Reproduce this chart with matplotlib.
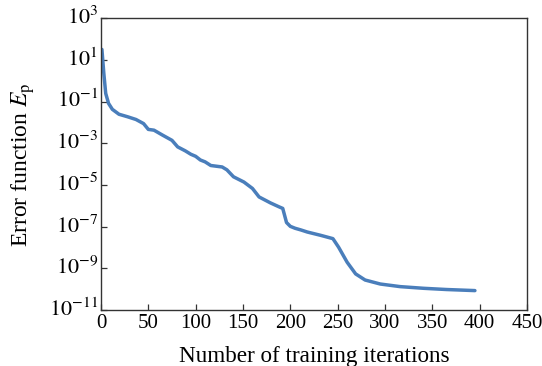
import numpy as np
import matplotlib
matplotlib.use("Agg")
import matplotlib.pyplot as plt
from matplotlib.transforms import ScaledTranslation

# Training history: iteration number and error function value
iterations = [1, 3, 5, 8, 12, 19, 28, 37, 45, 50, 56, 65, 75, 81, 89, 95, 100,
              105, 110, 116, 128, 133, 140, 151, 160, 167, 179, 188, 192, 196,
              200, 205, 211, 218, 232, 245, 251, 260, 269, 279, 295, 316, 341,
              365, 395]
error = [3.2e1, 2.3e0, 2.5e-1, 8.3e-2, 4.3e-2, 2.5e-2, 1.9e-2, 1.4e-2, 8.9e-3,
         4.7e-3, 4.3e-3, 2.5e-3, 1.4e-3, 6.8e-4, 4.4e-4, 3.0e-4, 2.4e-4,
         1.6e-4, 1.3e-4, 8.7e-5, 7.4e-5, 5.4e-5, 2.5e-5, 1.4e-5, 6.9e-6,
         2.7e-6, 1.4e-6, 9.1e-7, 7.6e-7, 1.6e-7, 1.05e-7, 8.5e-8, 7.1e-8,
         5.6e-8, 3.9e-8, 2.7e-8, 1.05e-8, 2.0e-9, 5.5e-10, 2.8e-10, 1.8e-10,
         1.35e-10, 1.12e-10, 9.8e-11, 8.7e-11]

x_ticks = [0, 50, 100, 150, 200, 250, 300, 350, 400, 450]
y_exponents = [3, 1, -1, -3, -5, -7, -9, -11]

plt.rcParams["font.family"] = ["Liberation Serif", "DejaVu Serif"]
plt.rcParams["mathtext.fontset"] = "stix"

fig = plt.figure(figsize=(5.42, 3.66), dpi=100)
ax = fig.add_axes([0.1863, 0.1525, 0.786, 0.7975])

ax.plot(iterations, error, color="#4a7ebb", lw=2.5, solid_joinstyle="round",
        solid_capstyle="round")

ax.set_yscale("log")
ax.set_xlim(0, 450)
ax.set_ylim(1e-11, 1e3)
ax.set_xticks(x_ticks)
ax.set_xticklabels([str(v) for v in x_ticks])
ax.set_yticks([10.0 ** e for e in y_exponents])
ax.set_yticklabels([r"$10^{%d}$" % e for e in y_exponents])
ax.yaxis.set_minor_locator(matplotlib.ticker.NullLocator())

ax.tick_params(axis="both", which="major", direction="in", length=4,
               width=0.9, color="#333333", top=False, right=False)
ax.tick_params(axis="x", pad=3, labelsize=15)
ax.tick_params(axis="y", pad=2, labelsize=16)
for s in ax.spines.values():
    s.set_color("#333333")
    s.set_linewidth(1.0)

# lift the decade labels slightly above their ticks
lift = ScaledTranslation(0, 3 / 100, fig.dpi_scale_trans)
for lab in ax.get_yticklabels():
    lab.set_transform(lab.get_transform() + lift)

ax.set_xlabel("Number of training iterations", fontsize=16.7, labelpad=9)
ax.set_ylabel(r"Error function $E_\mathrm{p}$", fontsize=17, labelpad=9)

fig.savefig("out.png", dpi=100)
